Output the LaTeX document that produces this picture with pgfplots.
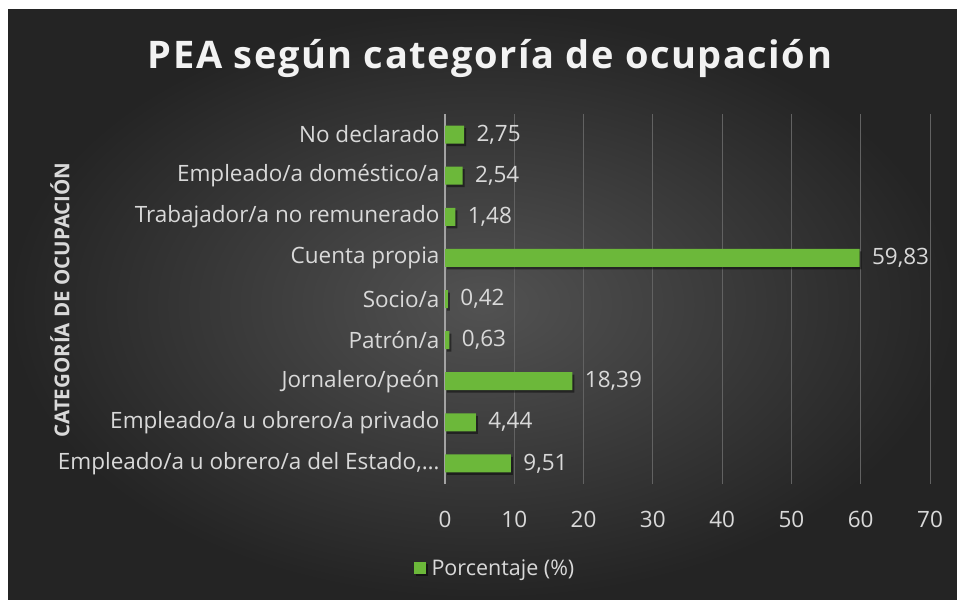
\documentclass[border=0pt]{standalone}
\usepackage{pgfplots}
\pgfplotsset{compat=1.18}
\usepackage{fontspec}
\setmainfont{Open Sans}
\newfontfamily\titlefont[LetterSpace=4]{Open Sans}
\definecolor{bargreen}{RGB}{108,184,58}
\definecolor{txtgray}{RGB}{217,217,217}
\definecolor{gridgray}{RGB}{98,98,98}
\definecolor{bgin}{RGB}{82,82,82}
\definecolor{bgout}{RGB}{36,36,36}

\pgfplotstableread{
idx val
0 9.51
1 4.44
2 18.39
3 0.63
4 0.42
5 59.83
6 1.48
7 2.54
8 2.75
}\peadata

\begin{document}
\begin{tikzpicture}[x=1pt,y=1pt]
  % canvas: white margin on top/left, dark radial background
  \fill[white] (0,0) rectangle (957,599);
  \shade[inner color=bgin, outer color=bgout] (8,0) rectangle (957,589);

  \node[font=\titlefont\bfseries\fontsize{38}{44}\selectfont, text=white!95!black] at (490,540) {PEA según categoría de ocupación};
  \node[rotate=90, font=\bfseries\fontsize{20.5}{24}\selectfont, text=txtgray] at (60,299) {CATEGORÍA DE OCUPACIÓN};

  \begin{axis}[
    at={(445pt,115pt)}, anchor=south west,
    width=485pt, height=370pt, scale only axis,
    xbar, bar width=18pt,
    xmin=0, xmax=70, xtick={0,10,...,70},
    ymin=-0.5, ymax=8.5, ytick={0,...,8},
    yticklabels={{Empleado/a u obrero/a del Estado,…},Empleado/a u obrero/a privado,Jornalero/peón,Patrón/a,Socio/a,Cuenta propia,Trabajador/a no remunerado,Empleado/a doméstico/a,No declarado},
    axis x line*=bottom, axis y line*=left,
    x axis line style={draw=none},
    y axis line style={draw=txtgray!75!black, line width=1.2pt},
    major tick length=0pt,
    xmajorgrids, grid style={gridgray, line width=1pt},
    tick label style={text=txtgray, font=\fontsize{22.5}{26}\selectfont},
    xticklabel style={yshift=-24pt},
    yticklabel style={xshift=-2pt},
    /pgf/number format/assume math mode=true,
    nodes near coords,
    nodes near coords style={text=txtgray, font=\fontsize{22.5}{26}\selectfont, xshift=9pt,
      /pgf/number format/.cd, fixed, fixed zerofill, precision=2, use comma},
    legend style={at={(0.103,-0.227)}, anchor=center, draw=none, fill=none,
      text=txtgray, font=\fontsize{21.5}{25}\selectfont},
    legend image code/.code={\fill[bargreen] (0pt,-6pt) rectangle (12pt,6pt); \path (16pt,0pt);},
  ]
    \addplot[fill=bargreen, draw=none,
      preaction={fill=black, opacity=0.45, transform canvas={shift={(2pt,-2.5pt)}}}]
      table[x=val, y=idx] {\peadata};
    \addlegendentry{Porcentaje (\%)}
  \end{axis}
\end{tikzpicture}
\end{document}
